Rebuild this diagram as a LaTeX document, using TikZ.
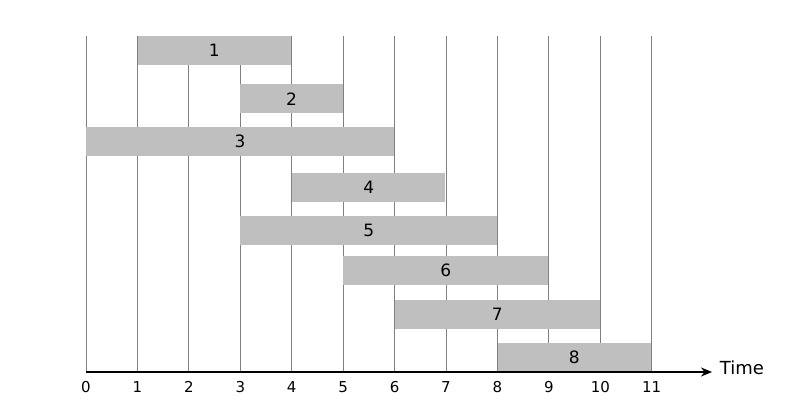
\documentclass[tikz,border=0pt]{standalone}
\usepackage{fontspec}
\setmainfont{DejaVu Sans}
\usetikzlibrary{arrows.meta}
\begin{document}
\begin{tikzpicture}[x=1pt,y=-1pt,
  grid/.style={draw=black!50, line width=1pt},
  bar/.style={fill=black!25, draw=none, inner sep=0pt, minimum height=29pt, anchor=north west, font=\fontsize{17}{17}\selectfont},
  tick/.style={font=\fontsize{15}{15}\selectfont, inner sep=0pt},
  axis/.style={draw=black, line width=2pt, -{Stealth[length=11pt,width=9pt]}}]
\useasboundingbox (0,0) rectangle (807,403);
% gridlines
\foreach \i in {0,...,11}{
  \draw[grid] ({86+51.43*\i},36) -- ({86+51.43*\i},372);
  \node[tick] (t\i) at ({86+51.43*\i},387) {\i};
}
% bars: start, end, top, label
\foreach \s/\e/\t/\l in {1/4/36/1, 3/5/84/2, 0/6/127/3, 4/7/173/4, 3/8/216/5, 5/9/256/6, 6/10/300/7, 8/11/343/8}{
  \node[bar, minimum width={51.43*(\e-\s)-0.8}] (b\l) at ({86+51.43*\s},\t) {\l};
}
\coordinate (o) at (86,372);
\coordinate (tip) at (712,372);
\draw[axis] (o) -- (tip);
\node[font=\fontsize{18}{18}\selectfont, inner sep=0pt] (time) at (742,368) {Time};
\end{tikzpicture}
\end{document}
